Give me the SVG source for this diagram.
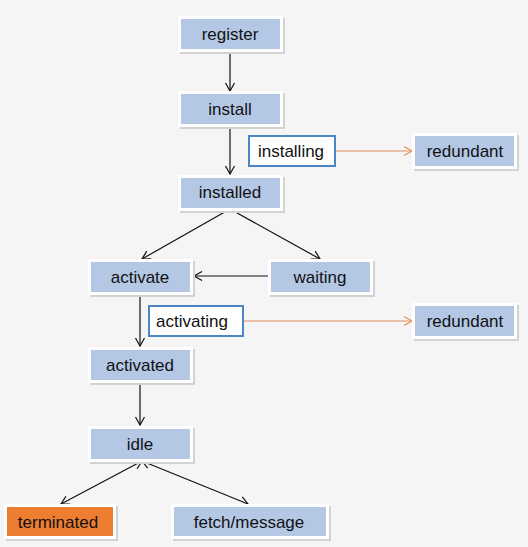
<svg xmlns="http://www.w3.org/2000/svg" width="528" height="547" viewBox="0 0 528 547">
<defs>
<style>
.box rect.b{fill:#b4c8e6;stroke:#ffffff;stroke-width:3}
.box rect.s{fill:#d2d2d2}
.state rect.b{fill:#ffffff;stroke:#4a86c5;stroke-width:2}
.term rect.b{fill:#ed7d31;stroke:#ffffff;stroke-width:3}
text{font-family:"Liberation Sans",Arial,sans-serif;font-size:17px;fill:#111;text-anchor:middle;dominant-baseline:central}
.c line{stroke:#111;stroke-width:1.2;fill:none}
.c line.o{stroke:#e68e5a}
</style>
<marker id="a" markerWidth="12" markerHeight="12" refX="10" refY="6" orient="auto" markerUnits="userSpaceOnUse"><polyline points="2,1.5 10,6 2,10.5" fill="none" stroke="#111" stroke-width="1.2"/></marker>
<marker id="ao" markerWidth="12" markerHeight="12" refX="10" refY="6" orient="auto" markerUnits="userSpaceOnUse"><polyline points="2,1.5 10,6 2,10.5" fill="none" stroke="#e68e5a" stroke-width="1.2"/></marker>
<marker id="as" markerWidth="12" markerHeight="12" refX="2" refY="6" orient="auto" markerUnits="userSpaceOnUse"><polyline points="10,1.5 2,6 10,10.5" fill="none" stroke="#111" stroke-width="1.2"/></marker>
</defs>
<rect width="528" height="547" fill="#f5f5f5"/>
<g class="c">
<line x1="230" y1="52" x2="230" y2="91" marker-end="url(#a)"/>
<line x1="230" y1="127" x2="230" y2="174" marker-end="url(#a)"/>
<line x1="230" y1="209" x2="142" y2="259" marker-end="url(#a)"/>
<line x1="230" y1="209" x2="320" y2="259" marker-end="url(#a)"/>
<line x1="270" y1="276" x2="194" y2="276" marker-end="url(#a)"/>
<line x1="140" y1="295" x2="140" y2="346" marker-end="url(#a)"/>
<line x1="140" y1="383" x2="140" y2="425" marker-end="url(#a)"/>
<line x1="142" y1="461" x2="61" y2="504" marker-start="url(#as)" marker-end="url(#a)"/>
<line x1="142" y1="461" x2="248" y2="504" marker-start="url(#as)" marker-end="url(#a)"/>
<line class="o" x1="336" y1="151" x2="412" y2="151" marker-end="url(#ao)"/>
<line class="o" x1="244" y1="321" x2="412" y2="321" marker-end="url(#ao)"/>
</g>
<g id="register" class="box"><rect class="s" x="180" y="18" width="105" height="36"/><rect class="b" x="179.5" y="17.5" width="102" height="33"/><text x="230" y="34">register</text></g>
<g id="install" class="box"><rect class="s" x="180" y="93" width="105" height="36"/><rect class="b" x="179.5" y="92.5" width="102" height="33"/><text x="230" y="109">install</text></g>
<g id="installing" class="state"><rect class="b" x="249" y="136" width="86" height="30"/><text x="291" y="151">installing</text></g>
<g id="redundant1" class="box"><rect class="s" x="414" y="135" width="105" height="36"/><rect class="b" x="413.5" y="134.5" width="102" height="33"/><text x="465" y="151">redundant</text></g>
<g id="installed" class="box"><rect class="s" x="180" y="177" width="105" height="36"/><rect class="b" x="179.5" y="176.5" width="102" height="33"/><text x="230" y="192">installed</text></g>
<g id="activate" class="box"><rect class="s" x="90" y="261" width="105" height="36"/><rect class="b" x="89.5" y="260.5" width="102" height="33"/><text x="140" y="277">activate</text></g>
<g id="waiting" class="box"><rect class="s" x="270" y="261" width="105" height="36"/><rect class="b" x="269.5" y="260.5" width="102" height="33"/><text x="320" y="277">waiting</text></g>
<g id="activating" class="state"><rect class="b" x="149" y="306" width="94" height="30"/><text x="192" y="321">activating</text></g>
<g id="redundant2" class="box"><rect class="s" x="414" y="305" width="105" height="36"/><rect class="b" x="413.5" y="304.5" width="102" height="33"/><text x="465" y="321">redundant</text></g>
<g id="activated" class="box"><rect class="s" x="90" y="349" width="105" height="36"/><rect class="b" x="89.5" y="348.5" width="102" height="33"/><text x="140" y="365">activated</text></g>
<g id="idle" class="box"><rect class="s" x="90" y="428" width="105" height="36"/><rect class="b" x="89.5" y="427.5" width="102" height="33"/><text x="140" y="444">idle</text></g>
<g id="terminated" class="box term"><rect class="s" x="6" y="506" width="112" height="35"/><rect class="b" x="5.5" y="505.5" width="109" height="32"/><text x="58" y="522">terminated</text></g>
<g id="fetch" class="box"><rect class="s" x="173" y="506" width="158" height="35"/><rect class="b" x="172.5" y="505.5" width="155" height="32"/><text x="249" y="522">fetch/message</text></g>
</svg>
